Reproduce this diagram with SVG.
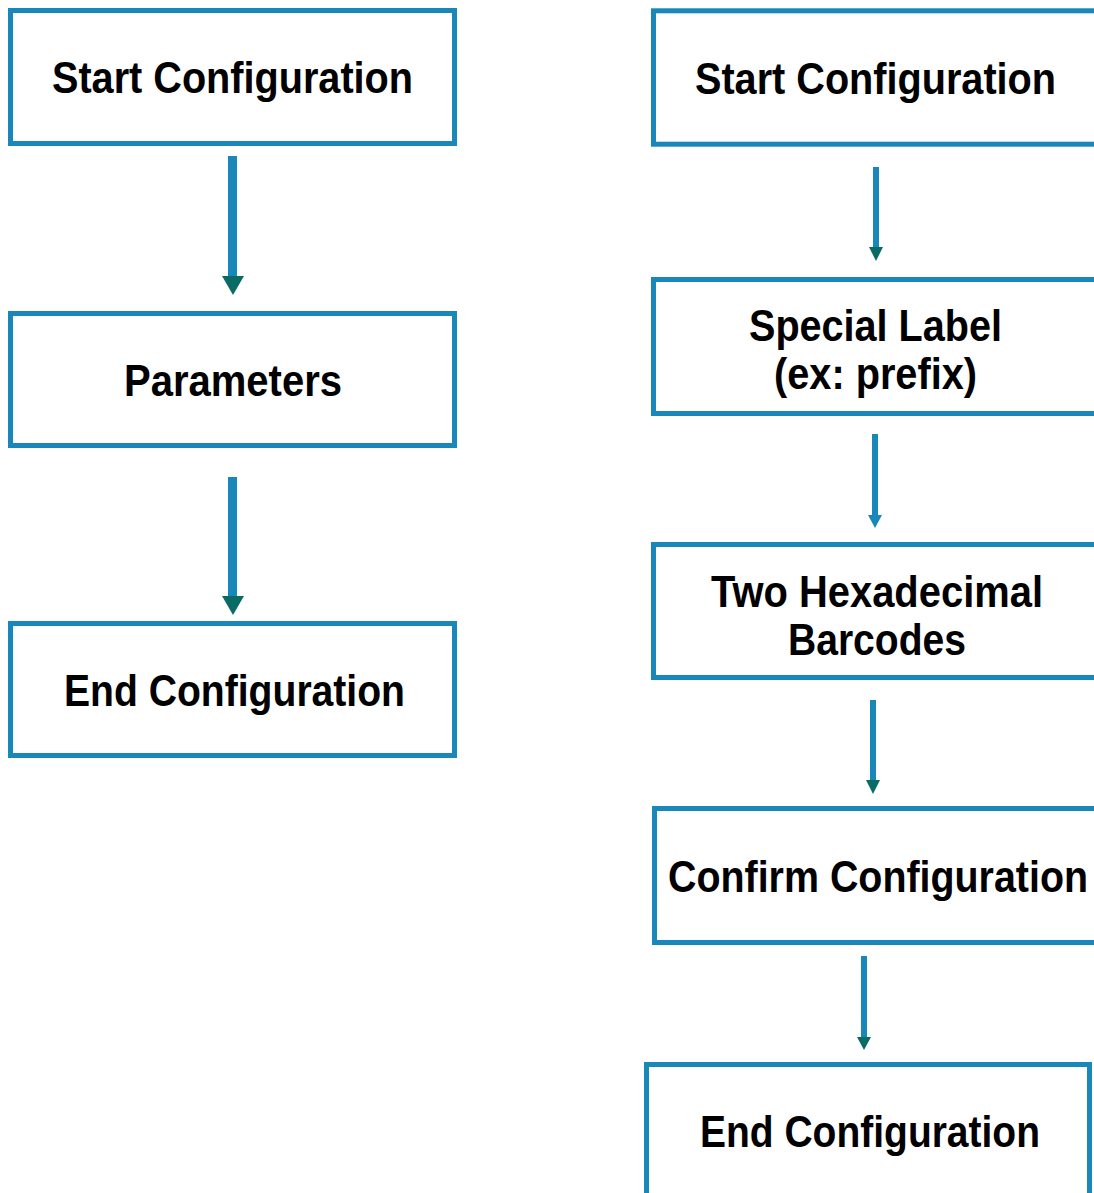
<svg xmlns="http://www.w3.org/2000/svg" width="1094" height="1193" viewBox="0 0 1094 1193">
<style>
.box{fill:#fff;stroke:#1a87bb;stroke-width:5}
.t{font-family:"Liberation Sans",Arial,sans-serif;font-weight:bold;font-size:45px;fill:#000;text-anchor:middle}
.shaft{fill:#1a87bb}
.headT{fill:#0a6b66}
.headB{fill:#1a87bb}
</style>
<rect width="1094" height="1193" fill="#fff"/>
<g id="left-start"><rect class="box" x="10.5" y="10.5" width="444" height="133"/><text class="t" x="232.5" y="93" textLength="361" lengthAdjust="spacingAndGlyphs">Start Configuration</text></g>
<g id="left-params"><rect class="box" x="10.5" y="313.5" width="444" height="132"/><text class="t" x="233" y="395.5" textLength="218" lengthAdjust="spacingAndGlyphs">Parameters</text></g>
<g id="left-end"><rect class="box" x="10.5" y="623.5" width="444" height="132"/><text class="t" x="234.5" y="705.5" textLength="341" lengthAdjust="spacingAndGlyphs">End Configuration</text></g>
<g id="right-start"><rect class="box" x="653.5" y="10.8" width="460" height="133.4"/><text class="t" x="875.5" y="93.5" textLength="361" lengthAdjust="spacingAndGlyphs">Start Configuration</text></g>
<g id="right-special"><rect class="box" x="653.5" y="279.5" width="460" height="134"/><text class="t" x="875.5" y="340.5" textLength="253" lengthAdjust="spacingAndGlyphs">Special Label</text><text class="t" x="875.5" y="388.5" textLength="203" lengthAdjust="spacingAndGlyphs">(ex: prefix)</text></g>
<g id="right-hex"><rect class="box" x="653.5" y="544.5" width="460" height="133"/><text class="t" x="877" y="606.5" textLength="332" lengthAdjust="spacingAndGlyphs">Two Hexadecimal</text><text class="t" x="877" y="654.5" textLength="178" lengthAdjust="spacingAndGlyphs">Barcodes</text></g>
<g id="right-confirm"><rect class="box" x="654.5" y="808.5" width="460" height="134"/><text class="t" x="878" y="891.5" textLength="420" lengthAdjust="spacingAndGlyphs">Confirm Configuration</text></g>
<g id="right-end"><rect class="box" x="646.5" y="1064.5" width="443" height="160"/><text class="t" x="870" y="1147" textLength="340" lengthAdjust="spacingAndGlyphs">End Configuration</text></g>
<g id="connectors">
<rect class="shaft" x="228" y="156" width="9" height="126"/><polygon class="headT" points="222,276 244,276 233,295"/>
<rect class="shaft" x="228" y="477" width="9" height="125"/><polygon class="headT" points="222,596 244,596 233,615"/>
<rect class="shaft" x="873" y="167" width="6" height="83"/><polygon class="headT" points="869,247 883,247 876,261"/>
<rect class="shaft" x="872" y="434" width="6" height="84"/><polygon class="headB" points="868,515 882,515 875,528"/>
<rect class="shaft" x="870" y="700" width="6" height="83"/><polygon class="headT" points="866,780 880,780 873,794"/>
<rect class="shaft" x="861" y="956" width="6" height="84"/><polygon class="headT" points="857,1037 871,1037 864,1050"/>
</g>
</svg>
